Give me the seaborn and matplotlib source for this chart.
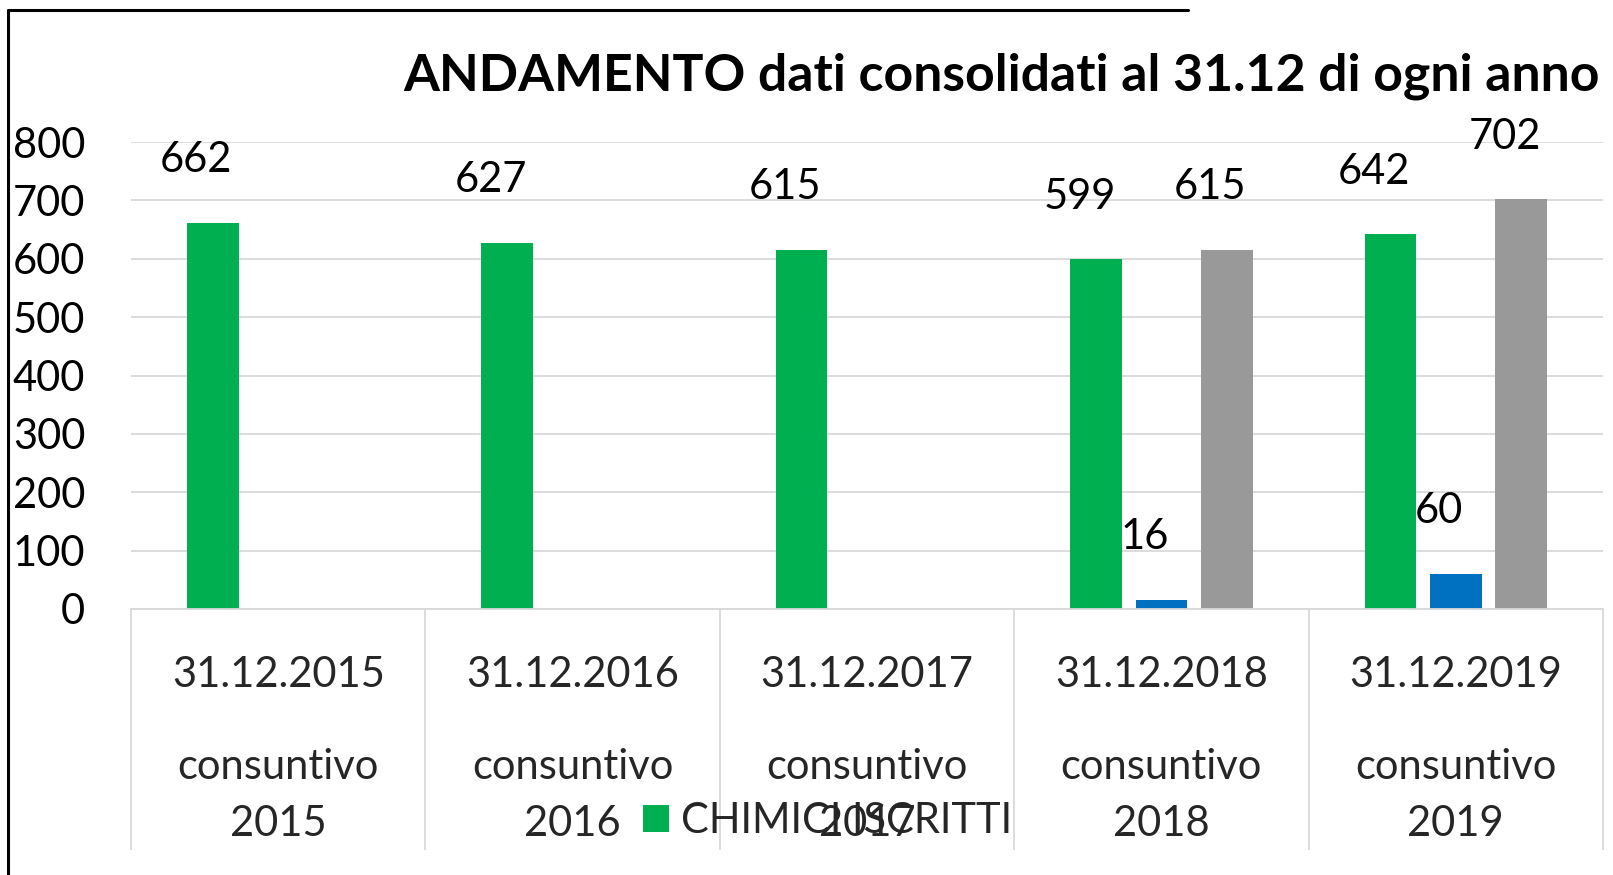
import numpy as np
import pandas as pd
import matplotlib
matplotlib.use("Agg")
import matplotlib.pyplot as plt
from matplotlib.lines import Line2D
from matplotlib.patches import Patch
import seaborn as sns

# ---- data ----
dates = ["31.12.2015", "31.12.2016", "31.12.2017", "31.12.2018", "31.12.2019"]
sublabels = ["consuntivo\n2015", "consuntivo\n2016", "consuntivo\n2017",
             "consuntivo\n2018", "consuntivo\n2019"]
series = ["CHIMICI ISCRITTI", "Serie 2", "Serie 3"]
chimici_iscritti = [662, 627, 615, 599, 642]
serie_2 = [np.nan, np.nan, np.nan, 16, 60]
serie_3 = [np.nan, np.nan, np.nan, 615, 702]
colors = ["#00b050", "#0070c0", "#999999"]
title = "ANDAMENTO dati consolidati al 31.12 di ogni anno"
yticks = [0, 100, 200, 300, 400, 500, 600, 700, 800]

rows = []
for s, vals in zip(series, [chimici_iscritti, serie_2, serie_3]):
    for d, v in zip(dates, vals):
        rows.append({"date": d, "serie": s, "value": v})
df = pd.DataFrame(rows).dropna()

sns.set_theme(style="white")
plt.rcParams["font.family"] = ["Lato", "DejaVu Sans"]

W, H = 1613, 875
fig = plt.figure(figsize=(W / 100, H / 100), dpi=100)
ax = fig.add_axes([131 / W, 1 - 609 / H, (1603 - 131) / W, (609 - 142) / H])

sns.barplot(data=df, x="date", y="value", hue="serie", order=dates,
            hue_order=series, palette=colors, width=0.666, gap=0.21,
            saturation=1, errorbar=None, legend=False, ax=ax,
            linewidth=0, edgecolor="none")

for cont in ax.containers:
    for bar in cont:
        h = bar.get_height()
        if h is None or np.isnan(h):
            continue
        ax.annotate(f"{h:.0f}", (bar.get_x() + bar.get_width() / 2, h),
                    xytext=(-12, 45), textcoords="offset points",
                    ha="center", va="center", fontsize=30, color="black")

ax.set_ylim(0, 800)
ax.set_xlim(-0.5, len(dates) - 0.5)
ax.set_yticks(yticks)
ax.set_yticklabels([str(t) for t in yticks], fontsize=30)
ax.tick_params(axis="y", length=0, pad=33, colors="black")
ax.yaxis.grid(True, color="#d9d9d9", lw=1.3)
ax.set_axisbelow(True)
for sp in ["left", "top", "right"]:
    ax.spines[sp].set_visible(False)
ax.spines["bottom"].set_color("#d9d9d9")
ax.spines["bottom"].set_linewidth(1.3)
ax.set_xlabel("")
ax.set_ylabel("")

ax.set_xticks(range(len(dates)))
ax.set_xticklabels([""] * len(dates))
ax.tick_params(axis="x", which="major", length=0)
ax.set_xticks(np.arange(len(dates) + 1) - 0.5, minor=True)
ax.tick_params(axis="x", which="minor", bottom=True, length=(850 - 609) * 0.72,
               color="#d9d9d9", width=1.3, direction="out")

for i, (d, sl) in enumerate(zip(dates, sublabels)):
    l1, l2 = sl.split("\n")
    ax.annotate(d, (i, 0), xycoords=("data", "axes fraction"),
                xytext=(0, -78 * 0.72), textcoords="offset points",
                ha="center", va="baseline", fontsize=30)
    ax.annotate(l1, (i, 0), xycoords=("data", "axes fraction"),
                xytext=(0, -170 * 0.72), textcoords="offset points",
                ha="center", va="baseline", fontsize=30)
    ax.annotate(l2, (i, 0), xycoords=("data", "axes fraction"),
                xytext=(0, -227 * 0.72), textcoords="offset points",
                ha="center", va="baseline", fontsize=30)

handles = [Patch(facecolor=colors[0], edgecolor="none", label=series[0])]
fig.legend(handles=handles, loc="center left",
           bbox_to_anchor=(643 / W, 1 - 821 / H), frameon=False,
           fontsize=30, handlelength=0.62, handleheight=0.62,
           handletextpad=0.29, borderpad=0, borderaxespad=0)

fig.text(403 / W, 1 - 76 / H, title, ha="left", va="center",
         fontsize=37.3, fontweight="bold", color="black")

fig.add_artist(Line2D([8 / W, 8 / W], [0, 1 - 10 / H], transform=fig.transFigure,
                      color="black", lw=2.2))
fig.add_artist(Line2D([8 / W, 1188 / W], [1 - 10 / H, 1 - 10 / H],
                      transform=fig.transFigure, color="black", lw=2.2))

fig.savefig("out.png", dpi=100, facecolor="white")
